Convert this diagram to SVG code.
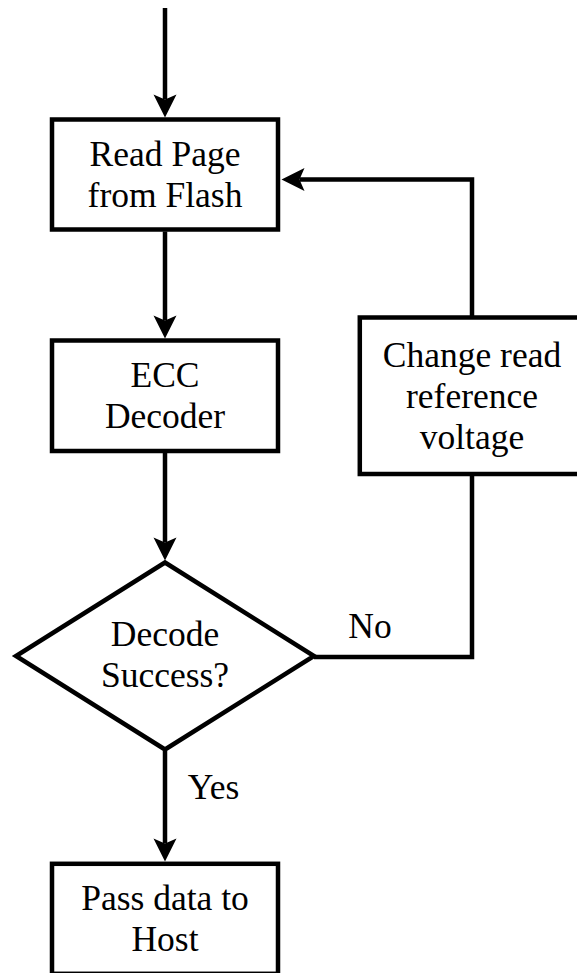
<svg xmlns="http://www.w3.org/2000/svg" width="577" height="973" viewBox="0 0 577 973">
  <style>
    .box { fill: #ffffff; stroke: #000000; stroke-width: 4.5; }
    .conn { fill: none; stroke: #000000; stroke-width: 4.5; }
    .t { font-family: "Liberation Serif", "Times New Roman", serif; font-size: 35.5px; fill: #000000; text-anchor: middle; }
  </style>
  <defs>
    <marker id="arrow" markerUnits="userSpaceOnUse" markerWidth="30" markerHeight="30" refX="5" refY="0" orient="auto" overflow="visible" viewBox="0 -15 30 30">
      <path d="M0,-11.5 L23,0 L0,11.5 L5,0 Z" fill="#000000"/>
    </marker>
  </defs>
  <rect width="577" height="973" fill="#ffffff"/>

  <g id="connectors">
    <path class="conn" d="M165,8 L165,99.5" marker-end="url(#arrow)"/>
    <path class="conn" d="M165,231.5 L165,320.5" marker-end="url(#arrow)"/>
    <path class="conn" d="M165,452.5 L165,542.5" marker-end="url(#arrow)"/>
    <path class="conn" d="M165,751 L165,843.5" marker-end="url(#arrow)"/>
    <path class="conn" d="M314,657 L472,657 L472,475.5"/>
    <path class="conn" d="M472,316 L472,179.5 L299.5,179.5" marker-end="url(#arrow)"/>
  </g>

  <g id="node-read">
    <rect class="box" x="52" y="119.5" width="226" height="110"/>
    <text class="t" x="165" y="165.5">Read Page</text>
    <text class="t" x="165" y="207">from Flash</text>
  </g>

  <g id="node-ecc">
    <rect class="box" x="52" y="340.5" width="226" height="110.5"/>
    <text class="t" x="165" y="387">ECC</text>
    <text class="t" x="165" y="428">Decoder</text>
  </g>

  <g id="node-decision">
    <path class="box" d="M165,562.5 L314,656 L165,749.5 L16,656 Z"/>
    <text class="t" x="165" y="646.3">Decode</text>
    <text class="t" x="165" y="687.3">Success?</text>
  </g>

  <g id="node-change">
    <rect class="box" x="359.8" y="317.5" width="224.5" height="156.5"/>
    <text class="t" x="472" y="366.5">Change read</text>
    <text class="t" x="472" y="407.5">reference</text>
    <text class="t" x="472" y="448.5">voltage</text>
  </g>

  <g id="node-pass">
    <rect class="box" x="52" y="863.8" width="226" height="110"/>
    <text class="t" x="165" y="910.3">Pass data to</text>
    <text class="t" x="165" y="951">Host</text>
  </g>

  <g id="labels">
    <text class="t" x="370" y="638">No</text>
    <text class="t" x="213.5" y="799">Yes</text>
  </g>
</svg>
